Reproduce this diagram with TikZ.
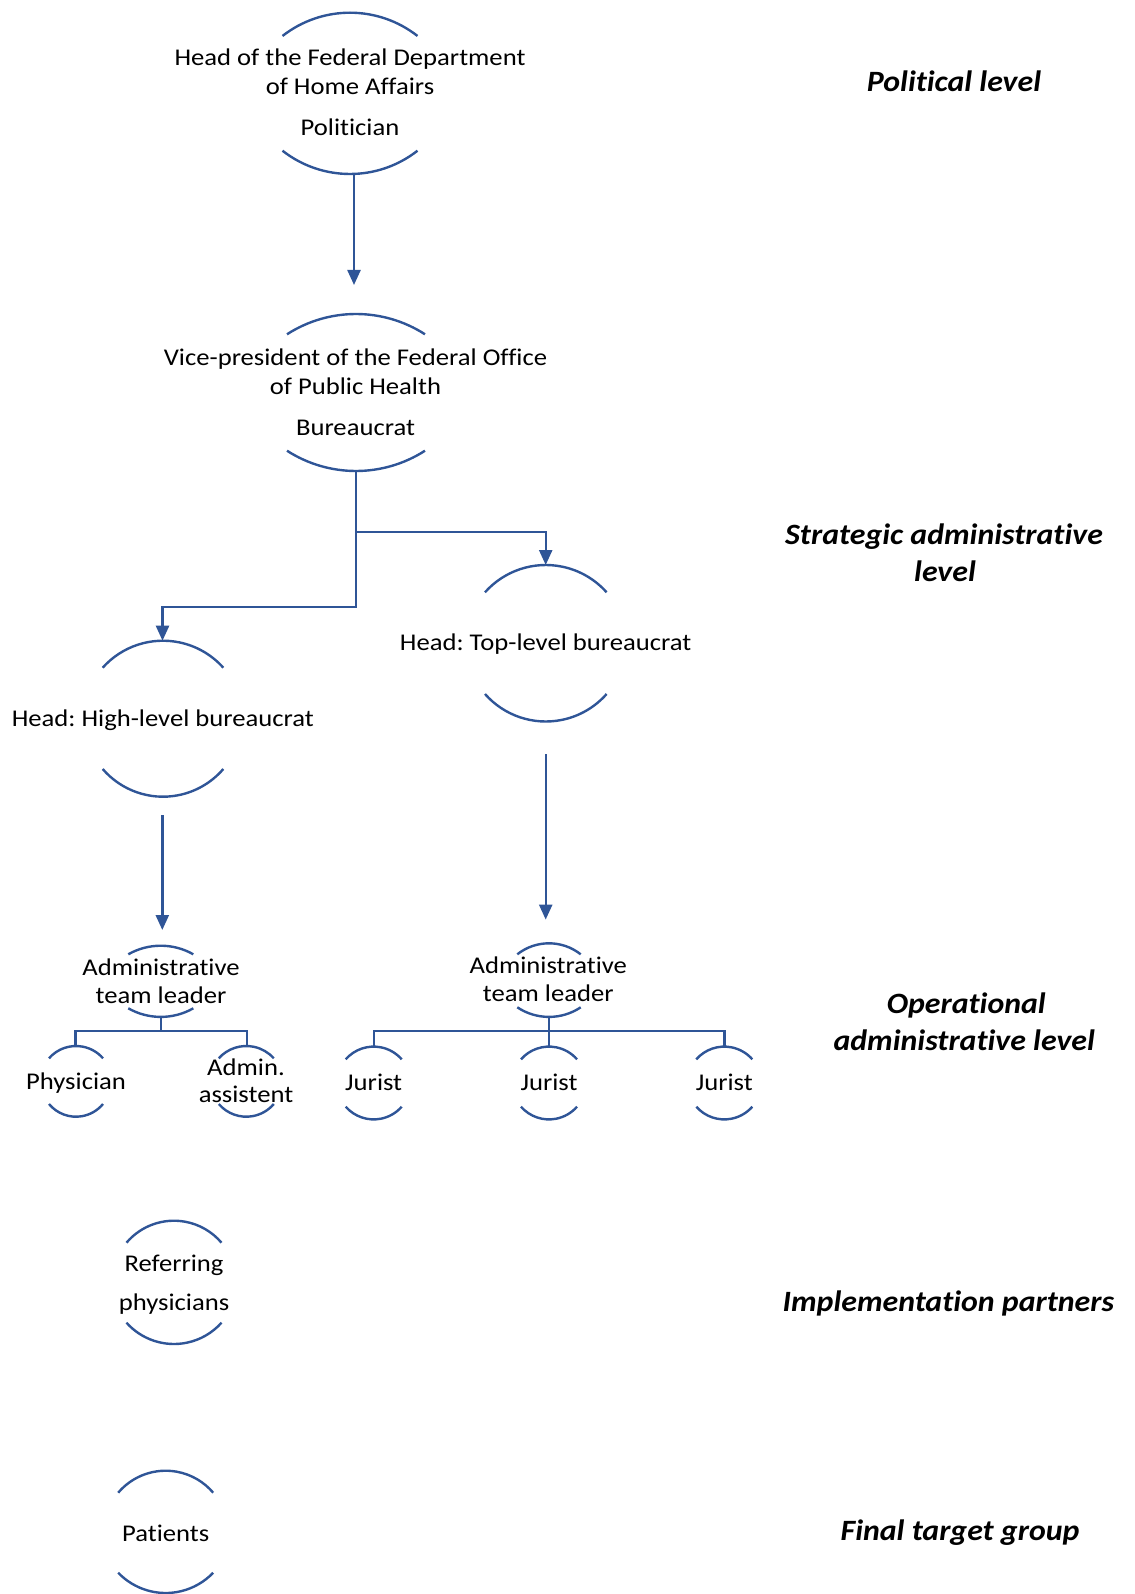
\documentclass[tikz,border=0pt]{standalone}
\usepackage{fontspec}
\setmainfont{Carlito}[FakeStretch=1.11,Ligatures={NoCommon}]
\newfontfamily\lblfont{Carlito}[FakeStretch=1.08,Ligatures={NoCommon}]
\usetikzlibrary{arrows.meta}
\definecolor{orgblue}{RGB}{47,85,151}
\frenchspacing
\tikzset{
  arcln/.style={draw=orgblue,line width=2.4pt},
  conn/.style={draw=orgblue,line width=2.4pt},
  arr/.style={conn,-{Triangle[length=15pt,width=13pt]}},
  txt/.style={anchor=base,inner sep=0pt,font=\fontsize{24}{28.8}\selectfont},
  lvl/.style={anchor=base,inner sep=0pt,font=\lblfont\fontsize{29.5}{35}\selectfont\bfseries\itshape}
}
% top arc: cx, y of end points, half width, sag
\newcommand\arcTop[4]{%
  \pgfmathsetmacro\myrad{(#3*#3+#4*#4)/(2*#4)}%
  \pgfmathsetmacro\myang{asin(#3/\myrad)}%
  \draw[arcln] ({#1-#3},#2) arc[start angle={270-\myang}, end angle={270+\myang}, radius=\myrad];}
\newcommand\arcBot[4]{%
  \pgfmathsetmacro\myrad{(#3*#3+#4*#4)/(2*#4)}%
  \pgfmathsetmacro\myang{asin(#3/\myrad)}%
  \draw[arcln] ({#1-#3},#2) arc[start angle={90+\myang}, end angle={90-\myang}, radius=\myrad];}
\begin{document}
\frenchspacing
\begin{tikzpicture}[x=1pt,y=-1pt]
\useasboundingbox (0,0) rectangle (1134,1594);

% ---- Politician
\arcTop{350}{36}{67.5}{23.3}
\arcBot{350}{150.7}{67.5}{23.3}
\node[txt] (pol1) at (350,65.7) {Head of the Federal Department};
\node[txt] (pol2) at (350,94.3) {of Home Affairs};
\node[txt] (pol3) at (350,136) {Politician};

% ---- Bureaucrat
\arcTop{356}{334.3}{69}{20.3}
\arcBot{356}{450.7}{69}{20.3}
\node[txt] (bur1) at (355.5,365) {Vice-president of the Federal Office};
\node[txt] (bur2) at (355.5,394) {of Public Health};
\node[txt] (bur3) at (355.5,435) {Bureaucrat};

% ---- Top-level
\arcTop{545.8}{592.3}{60.8}{27.3}
\arcBot{545.8}{694}{60.8}{27.5}
\node[txt] (top1) at (545.6,650.5) {Head: Top-level bureaucrat};

% ---- High-level
\arcTop{163}{667.7}{60.3}{27}
\arcBot{163}{769}{60.3}{27.7}
\node[txt] (high1) at (162.8,726) {Head: High-level bureaucrat};

% ---- Team leaders
\arcTop{160.8}{954.3}{32.5}{8.6}
\arcBot{160.8}{1008.3}{32.5}{8.6}
\node[txt] (tlL1) at (161,975) {Administrative};
\node[txt] (tlL2) at (161,1003.3) {team leader};

\arcTop{549}{954.3}{31.7}{11}
\arcBot{549}{1007.3}{31.7}{9.6}
\node[txt] (tlR1) at (548.3,973.3) {Administrative};
\node[txt] (tlR2) at (548.3,1001.7) {team leader};

% ---- Physician / Admin
\arcTop{76}{1058.3}{27}{12.3}
\arcBot{76}{1104}{27}{12.7}
\node[txt] (phy) at (76,1089) {Physician};
\arcTop{246.3}{1058.3}{27.5}{12.3}
\arcBot{246.3}{1104}{27.5}{12.7}
\node[txt] (adm1) at (246,1075) {Admin.};
\node[txt] (adm2) at (246,1102.7) {assistent};

% ---- Jurists
\foreach \jx/\jn in {373.7/jurA,549/jurB,724.3/jurC}{
  \arcTop{\jx}{1059.3}{28}{12.7}
  \arcBot{\jx}{1106.7}{28}{12.7}
  \node[txt] (\jn) at (\jx,1090.7) {Jurist};
}

% ---- Referring physicians
\arcTop{174}{1242.7}{47.5}{22}
\arcBot{174}{1322.7}{47.5}{21.3}
\node[txt] (ref1) at (174,1271.7) {Referring};
\node[txt] (ref2) at (174,1310) {physicians};

% ---- Patients
\arcTop{165.7}{1492.7}{47.5}{22}
\arcBot{165.7}{1572.7}{47.5}{20.3}
\node[txt] (pat) at (165.7,1541.7) {Patients};

% ---- Level labels
\node[lvl] (lv1) at (954,91.7) {Political level};
\node[lvl] (lv2a) at (944,544) {Strategic administrative};
\node[lvl] (lv2b) at (945,581.7) {level};
\node[lvl] (lv3a) at (966.3,1013.3) {Operational};
\node[lvl] (lv3b) at (964.2,1050) {administrative level};
\node[lvl] (lv4) at (948.3,1311.7) {Implementation partners};
\node[lvl] (lv5) at (960,1540) {Final target group};

% ---- Connectors
\coordinate (polB) at (354,174);
\coordinate (burA) at (354,285);
\draw[arr] (polB) -- (burA);

\coordinate (burB) at (356,471);
\coordinate (split) at (356,531.7);
\coordinate (bend) at (356,606.7);
\coordinate (topT) at (545.7,565);
\coordinate (highT) at (162.5,640.7);
\draw[arr] (burB) -- (split) -| (topT);
\draw[arr] (split) -- (bend) -| (highT);

\coordinate (topB) at (545.7,754);
\coordinate (tlRA) at (545.7,919.6);
\draw[arr] (topB) -- (tlRA);
\coordinate (highB) at (162.3,815);
\coordinate (tlLA) at (162.3,930);
\draw[arr] (highB) -- (tlLA);

\coordinate (tlLB) at (160.8,1016.7);
\coordinate (tlLJ) at (160.8,1031);
\coordinate (phyT) at (75.3,1046);
\coordinate (admT) at (246.7,1046);
\draw[conn] (tlLB) -- (tlLJ);
\draw[conn] (phyT) |- (tlLJ) -| (admT);

\coordinate (tlRB) at (549,1016.7);
\coordinate (tlRJ) at (549,1031);
\coordinate (jurAT) at (373.7,1046.7);
\coordinate (jurBT) at (549,1046.7);
\coordinate (jurCT) at (724.5,1046.7);
\draw[conn] (tlRB) -- (jurBT);
\draw[conn] (jurAT) |- (tlRJ) -| (jurCT);
\end{tikzpicture}
\end{document}
